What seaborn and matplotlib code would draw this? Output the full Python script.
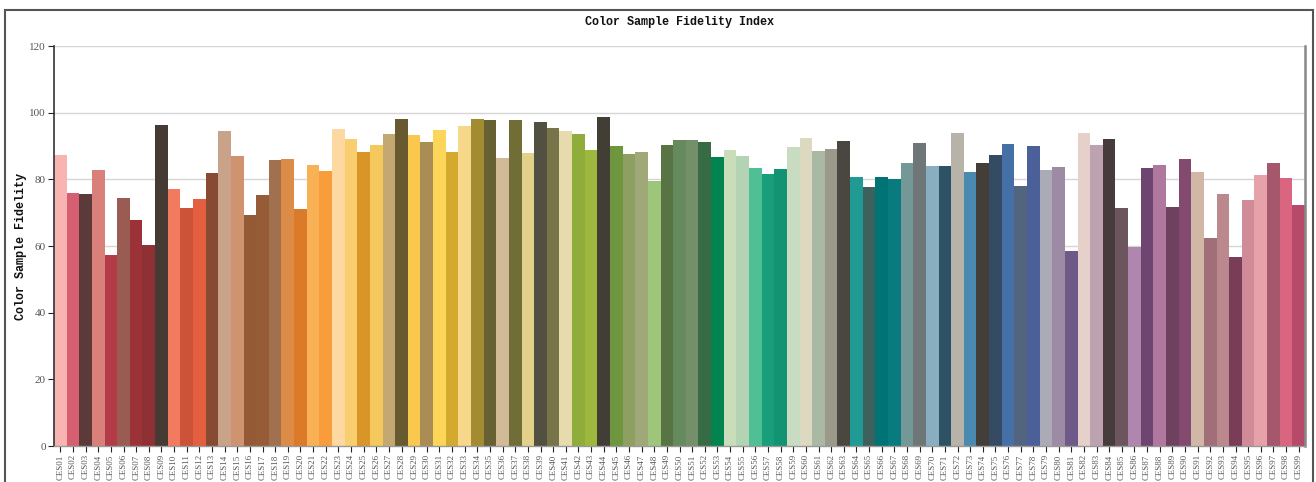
import matplotlib
matplotlib.use("Agg")
import matplotlib.pyplot as plt
import seaborn as sns
import pandas as pd
from matplotlib.patches import Rectangle

categories = [f"CES{i:02d}" for i in range(1, 100)]

values = [
    87.3, 75.9, 75.6, 82.8, 57.3, 74.4, 67.8, 60.3, 96.3, 77.1,
    71.4, 74.1, 81.9, 94.5, 87.0, 69.3, 75.3, 85.8, 86.1, 71.1,
    84.3, 82.5, 95.1, 92.1, 88.2, 90.3, 93.6, 98.1, 93.3, 91.2,
    94.8, 88.2, 96.0, 98.1, 97.8, 86.4, 97.8, 87.9, 97.2, 95.4,
    94.5, 93.6, 88.8, 98.7, 90.0, 87.6, 88.2, 79.5, 90.3, 91.8,
    91.8, 91.2, 86.7, 88.8, 87.0, 83.4, 81.6, 83.1, 89.7, 92.4,
    88.5, 89.1, 91.5, 80.7, 77.7, 80.7, 80.1, 84.9, 90.9, 84.0,
    84.0, 93.9, 82.2, 84.9, 87.3, 90.6, 78.0, 90.0, 82.8, 83.7,
    58.5, 93.9, 90.3, 92.1, 71.4, 59.7, 83.4, 84.3, 71.7, 86.1,
    82.2, 62.4, 75.6, 56.7, 73.8, 81.3, 84.9, 80.4, 72.3,
]

colors = [
    "#F8B4B0", "#D65F72", "#5C3A3A", "#D9807A", "#B33B48", "#9A5B53", "#9B3238", "#8E3034", "#463A34", "#F27A5E",
    "#CC5238", "#E45F40", "#874A32", "#C8A289", "#CF9370", "#935A35", "#955C37", "#A0704F", "#DD8C48", "#DB7A28",
    "#F8B255", "#F89C3C", "#FDD8A0", "#F9CE6E", "#D99528", "#F5C85E", "#C4A872", "#675930", "#F9C84C", "#A98D55",
    "#FDD558", "#D4AA2E", "#F7D88A", "#A38B31", "#676033", "#D2BA96", "#716D36", "#E3D18B", "#525040", "#77744A",
    "#E7DAAC", "#90AD3C", "#9DB83D", "#433E35", "#6E963E", "#8DA062", "#A1A877", "#9EC67A", "#587444", "#648A5E",
    "#758F6A", "#376B45", "#028450", "#CADDBA", "#B3D3B3", "#51BF96", "#189E79", "#149372", "#C8DCC2", "#DDD8C0",
    "#A9B9A3", "#9A998A", "#4A4741", "#219A94", "#3D625D", "#007374", "#097A7E", "#749898", "#6F7677", "#88AEC0",
    "#2D5165", "#B8B3A8", "#4A8AB0", "#433E38", "#354B63", "#4570A5", "#53647F", "#4B6099", "#ABABB8", "#9D8BA6",
    "#6E5A89", "#E6D0CA", "#BCA3AF", "#463C3B", "#6B565E", "#AE86AE", "#6D4570", "#B0779F", "#6E425E", "#834A70",
    "#D1B8A6", "#A06F78", "#BB888E", "#7A3D58", "#D08B99", "#E7A1A9", "#A5586B", "#DA6580", "#B84A69",
]

y_ticks = [0, 20, 40, 60, 80, 100, 120]

title = "Color Sample Fidelity Index"
y_label = "Color Sample Fidelity"

df = pd.DataFrame({"cat": categories, "val": values})

sns.set_style("white")
plt.rcParams["font.family"] = ["Liberation Serif", "DejaVu Serif"]

W, H = 1316, 482
fig = plt.figure(figsize=(W / 100, H / 100), dpi=100)
ax = fig.add_axes([54 / W, 1 - 446 / H, (1305 - 54) / W, (446 - 46) / H])

sns.barplot(data=df, x="cat", y="val", hue="cat", palette=dict(zip(categories, colors)),
            legend=False, width=1.0, saturation=1, ax=ax, linewidth=0)

ax.set_xlim(-0.5, len(categories) - 0.5)
ax.set_ylim(0, 120)
ax.set_yticks(y_ticks)
ax.set_yticklabels([str(t) for t in y_ticks])
ax.yaxis.grid(True, color="#d6d6d6", linewidth=1.0)
ax.set_axisbelow(True)

ax.tick_params(axis="x", rotation=90, labelsize=6.4, colors="#555555", length=4, width=0.8,
               pad=2)
ax.tick_params(axis="x", color="#222222")
ax.tick_params(axis="y", labelsize=8, colors="#555555", length=4, width=0.8, pad=2)
ax.tick_params(axis="y", color="#222222")
ax.tick_params(bottom=True, left=True)

ax.spines["top"].set_visible(False)
ax.spines["left"].set_color("#333333")
ax.spines["left"].set_linewidth(1.2)
ax.spines["bottom"].set_color("#999999")
ax.spines["bottom"].set_linewidth(1.0)
ax.spines["right"].set_color("#888888")
ax.spines["right"].set_linewidth(1.8)

ax.set_xlabel("")
ax.set_ylabel(y_label, family=["Liberation Mono", "DejaVu Sans Mono"], fontweight="bold",
              fontsize=8.5, color="#111111")
ax.yaxis.set_label_coords((27 - 54) / (1305 - 54), 0.5)
fig.text(0.5 * (54 + 1305) / W, 1 - 22 / H, title, ha="center", va="center",
         family=["Liberation Mono", "DejaVu Sans Mono"], fontweight="bold", fontsize=8.5,
         color="#111111")

fig.patches.append(Rectangle((5 / W, -0.2), (1313 - 5) / W, 1.2 - 10 / H,
                             transform=fig.transFigure, fill=False, edgecolor="#555555",
                             linewidth=1.5, zorder=10))

fig.savefig("out.png", dpi=100)
